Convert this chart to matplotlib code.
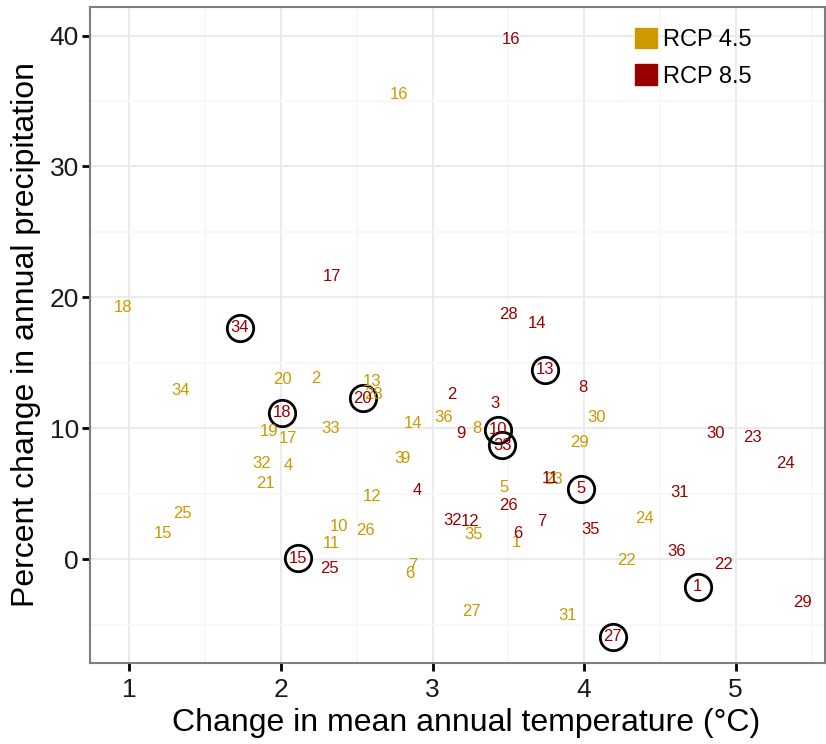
import matplotlib.pyplot as plt
from matplotlib.patches import Patch

plt.rcParams['font.family'] = ['Liberation Sans', 'DejaVu Sans']

# RCP 4.5 models (label, temp change, precip change)
rcp45_labels = [str(i) for i in range(1, 37)]
rcp45_temp = [3.55, 2.23, 2.78, 2.05, 3.47, 2.85, 2.87, 3.29, 2.82, 2.38,
              2.33, 2.60, 2.60, 2.87, 1.22, 2.78, 2.05, 0.96, 1.92, 2.01,
              1.90, 4.28, 3.80, 4.40, 1.35, 2.56, 3.26, 2.61, 3.97, 4.08,
              3.89, 1.87, 2.33, 1.34, 3.27, 3.07]
rcp45_precip = [1.3, 13.8, 7.7, 7.2, 5.5, -1.1, -0.5, 10.0, 7.7, 2.5,
                1.2, 4.8, 13.6, 10.4, 2.0, 35.5, 9.2, 19.2, 9.8, 13.7,
                5.8, -0.1, 6.1, 3.1, 3.5, 2.2, -4.0, 12.6, 8.9, 10.8,
                -4.3, 7.3, 10.0, 12.9, 1.9, 10.8]

# RCP 8.5 models
rcp85_labels = ['1', '2', '3', '4', '5', '6', '7', '8', '9', '10', '11', '12',
                '13', '14', '15', '16', '17', '18', '20', '22', '23', '24',
                '25', '26', '27', '28', '29', '30', '31', '32', '33', '34',
                '35', '36']
rcp85_temp = [4.75, 3.13, 3.41, 2.90, 3.98, 3.56, 3.72, 3.99, 3.19, 3.43,
              3.78, 3.25, 3.74, 3.69, 2.11, 3.52, 2.34, 2.01, 2.54, 4.92,
              5.11, 5.33, 2.32, 3.50, 4.19, 3.50, 5.44, 4.87, 4.63, 3.13,
              3.46, 1.73, 4.04, 4.61]
rcp85_precip = [-2.1, 12.6, 11.9, 5.3, 5.4, 2.0, 2.9, 13.1, 9.6, 9.9,
                6.2, 2.9, 14.5, 18.0, 0.1, 39.7, 21.6, 11.2, 12.3, -0.4,
                9.3, 7.3, -0.7, 4.1, -5.9, 18.7, -3.3, 9.6, 5.1, 3.0,
                8.7, 17.7, 2.3, 0.6]

# models highlighted with a circle (RCP 8.5)
circled = ['1', '5', '10', '13', '15', '18', '20', '27', '33', '34']

gold = '#CC9900'
red = '#990000'

fig = plt.figure(figsize=(8.26, 7.44), dpi=100)
ax = fig.add_axes([0.109, 0.109, 0.89, 0.882])

for lab, x, y in zip(rcp45_labels, rcp45_temp, rcp45_precip):
    ax.text(x, y, lab, color=gold, fontsize=12, ha='center', va='center')
for lab, x, y in zip(rcp85_labels, rcp85_temp, rcp85_precip):
    ax.text(x, y, lab, color=red, fontsize=12, ha='center', va='center')

cx = [x for lab, x in zip(rcp85_labels, rcp85_temp) if lab in circled]
cy = [y for lab, y in zip(rcp85_labels, rcp85_precip) if lab in circled]
ax.plot(cx, cy, 'o', ms=19, mfc='none', mec='black', mew=2, ls='none')

ax.set_xlim(0.741, 5.59)
ax.set_ylim(-7.9, 42.2)
ax.set_xticks([1, 2, 3, 4, 5])
ax.set_yticks([0, 10, 20, 30, 40])
ax.set_xticks([1.5, 2.5, 3.5, 4.5, 5.5], minor=True)
ax.set_yticks([-5, 5, 15, 25, 35], minor=True)
ax.grid(which='major', color='#EBEBEB', lw=1.5)
ax.grid(which='minor', color='#F7F7F7', lw=1.2)
ax.set_axisbelow(True)
ax.tick_params(which='major', length=6, width=2, color='black',
               labelsize=19, labelcolor='#1A1A1A')
ax.tick_params(axis='x', pad=5)
ax.tick_params(axis='y', pad=2)
ax.tick_params(which='minor', length=0)
for s in ax.spines.values():
    s.set_color('#7F7F7F')
    s.set_linewidth(1.5)

ax.set_xlabel('Change in mean annual temperature (°C)', fontsize=23, labelpad=3)
ax.xaxis.set_label_coords(0.512, -0.068)
ax.set_ylabel('Percent change in annual precipitation', fontsize=23, labelpad=6)

handles = [Patch(color=gold, label='RCP 4.5'), Patch(color=red, label='RCP 8.5')]
ax.legend(handles=handles, loc='upper left', bbox_to_anchor=(0.712, 1.0),
          frameon=False, fontsize=17, handlelength=0.95, handleheight=0.95,
          handletextpad=0.25, labelspacing=0.55)

plt.savefig('out.png', dpi=100)
